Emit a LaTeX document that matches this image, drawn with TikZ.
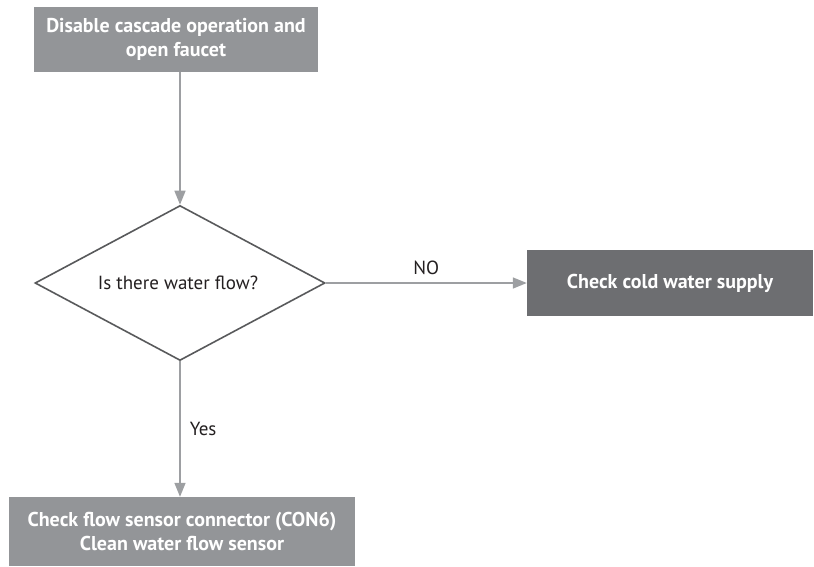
\documentclass[tikz,border=0pt]{standalone}
\usepackage{fontspec}
\setmainfont{PT Sans}
\usetikzlibrary{shapes.geometric,arrows.meta}
\definecolor{boxgray}{HTML}{939598}
\definecolor{boxdark}{HTML}{6D6E71}
\definecolor{linedark}{HTML}{58595B}
\definecolor{arrowgray}{HTML}{9D9FA2}
\definecolor{txtdark}{HTML}{231F20}
\begin{document}
\begin{tikzpicture}[x=1pt,y=-1pt,
  procbox/.style={rectangle, inner sep=0pt, text=white, font=\fontsize{20}{24.5}\selectfont\bfseries, align=center},
  decision/.style={diamond, draw=linedark, line width=1.6pt, inner sep=0pt, aspect=1.871, minimum width=290pt, minimum height=155pt, text=txtdark, font=\fontsize{19}{23}\selectfont},
  flow/.style={draw=arrowgray, line width=1.5pt, -{Triangle[length=14pt,width=11pt]}},
  lbl/.style={text=txtdark, font=\fontsize{19}{23}\selectfont, inner sep=0pt}
]
\useasboundingbox (0,0) rectangle (814,566);
\node[procbox, fill=boxgray, minimum width=284pt, minimum height=65pt] (start) at (176,39.5) {Disable cascade operation and\\open faucet};
\node[decision] (q) at (180,283) {\hspace*{-4pt}Is there water flow?};
\node[procbox, fill=boxdark, minimum width=286pt, minimum height=66pt] (cold) at (670,283) {Check cold water supply};
\node[procbox, fill=boxgray, minimum width=346pt, minimum height=69pt] (sensor) at (182,531.5) {Check flow sensor connector (CON6)\\Clean water flow sensor};
\draw[flow] (start.south -| q.north) -- (q.north);
\draw[flow] (q.east) -- node[lbl, above=8pt] {NO} (cold.west);
\draw[flow] (q.south) -- node[lbl, right=9pt] {Yes} (sensor.north -| q.south);
\end{tikzpicture}
\end{document}
